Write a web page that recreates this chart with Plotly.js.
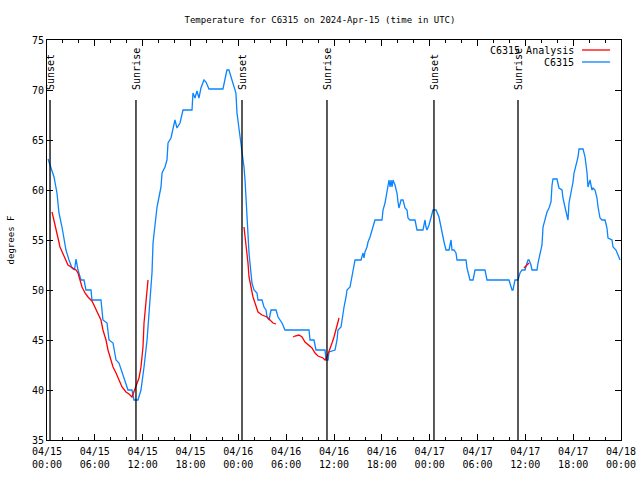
<!DOCTYPE html>
<html>
<head>
<meta charset="utf-8">
<script src="https://cdn.plot.ly/plotly-3.0.1.min.js"></script>
<style>html,body{margin:0;padding:0;background:#fff;}#chart{width:640px;height:480px;}</style>
</head>
<body>
<div id="chart"></div>
<script>
// Start of the period (UTC)
var startDate = '2024-04-15';

// Observed temperature C6315: hours after start, degrees F
var obsHours = [0.13,0.88,1.25,1.5,1.88,2.13,2.38,2.76,3.14,3.45,3.64,3.89,4.26,4.64,4.89,5.52,5.64,6.77,7.02,7.53,7.78,8.28,8.66,9.03,9.41,9.66,10.16,10.66,10.91,11.41,11.79,12.17,12.55,12.92,13.17,13.30,13.55,13.80,14.05,14.30,14.43,14.80,15.05,15.18,15.55,15.80,16.05,16.30,16.68,17.06,18.19,18.31,18.56,18.81,19.06,19.31,19.69,19.94,20.32,22.07,22.32,22.57,22.82,23.08,23.45,23.70,23.83,24.08,24.33,24.59,24.71,24.84,24.96,25.09,25.21,25.34,25.46,25.59,25.71,25.97,26.34,26.46,26.97,27.22,27.47,27.60,27.85,28.10,28.73,28.98,29.23,29.48,29.85,32.87,32.99,33.49,33.74,34.87,35.00,35.25,35.37,36.13,36.38,36.50,36.88,37.00,37.26,37.51,37.63,38.01,38.26,38.38,38.64,39.39,39.64,39.76,39.89,40.14,40.27,40.52,40.77,40.89,41.14,42.02,42.15,42.40,42.65,42.77,42.90,43.03,43.15,43.28,43.40,43.65,43.90,44.03,44.15,44.41,44.66,44.91,45.16,45.28,45.53,46.16,46.41,47.16,47.42,47.54,47.67,47.92,48.17,48.42,48.80,49.17,49.42,49.55,49.80,50.05,50.43,50.68,50.80,51.05,51.30,51.43,52.56,52.68,52.94,53.06,53.44,53.69,54.94,55.19,57.95,58.20,58.33,58.45,58.70,59.08,59.33,59.58,59.96,60.21,60.34,60.46,60.71,60.84,61.46,61.59,61.84,62.09,62.22,62.47,62.72,62.97,63.22,63.35,63.47,63.97,64.22,64.60,64.72,64.97,65.23,65.35,65.48,65.73,65.98,66.11,66.36,66.61,66.73,67.24,67.49,67.74,67.86,68.11,68.36,68.49,68.74,68.99,69.12,69.37,69.62,70.00,70.24,70.37,70.87,71.00,71.37,71.50,71.88];
var obsTemps = [63.1,61.3,59.7,57.7,56.3,55,54,53,52.2,52,53.1,52,51,51,50,50,49,49,47,46.7,45,44.7,43,42.7,41.8,41,40,40,39,39,40,42.3,45,49,51.7,54.7,56.7,58.3,59.3,60.3,61.7,62.3,63,64.7,65.2,66,67,66.2,66.7,68,68,69.7,69.2,69.9,69.2,70.2,71,70.8,70.1,70.1,71,72,72,71.3,70.5,69.7,67.7,66.3,64.7,63.5,62.3,61,59,57,55.3,53.7,52.7,51.7,50.7,50,49.7,49,49,48.3,48,47.3,47,48,48,47.3,47,46.7,46,46,45,45,44,44,43,43,43.8,44,45,46,46.3,47,48.3,49.3,50,50.3,51.3,52,53,53,53.7,53.2,53.8,54.3,54.8,55.3,56,56.5,57,57,58,58.7,59.7,60.3,61,60.3,61,60.3,61,60.5,59.7,58.8,58.2,59,59,58.2,58,57.2,57,57,56,56,57,56.3,56,56.5,57.3,58,58,57.3,56.3,55.7,54.8,54,54,55,54,54,53.7,53,53,52.2,51.3,51,51,52,52,51,51,50.3,50,50,51,51,51.7,52,52,52.7,53,53,52.5,52,52,52.7,53.7,54.5,56.3,57,57.8,58.2,58.8,60.5,61.1,61.1,60.2,60,59.2,58.3,57.3,57,58.7,59.7,60.8,61.7,62.5,63.3,64.1,64.1,63.3,61.7,60.3,61,60,60.2,60,59.2,58.3,57.2,57,57,56.2,55.2,55,54.3,54,53.7,53];

// Analysis C6315 (segments separated by null)
var anaHours = [0.63,0.88,1.13,1.38,1.63,1.88,2.26,2.63,3.01,3.26,3.64,3.89,4.14,4.39,4.77,5.14,5.64,6.02,6.40,6.77,7.02,7.40,7.65,8.03,8.28,8.66,9.03,9.41,9.91,10.29,10.66,10.91,11.29,11.54,11.79,12.04,12.17,12.42,12.67,
  12.8,
  24.71,24.84,25.09,25.21,25.34,25.59,25.84,26.09,26.47,26.97,27.60,27.97,28.35,28.73,
  29.5,
  30.86,31.11,31.61,31.99,32.36,32.74,33.24,33.62,33.99,34.62,34.87,35.12,35.37,35.75,36.00,36.25,36.50,36.63,
  37.0,
  59.83,60.08,60.33,60.46];
var anaTemps = [57.8,57,56,55.2,54.3,53.8,53.2,52.5,52.3,52.2,52,51.7,51,50.3,49.7,49.3,48.9,48.3,47.7,47,46,45,44,43,42.3,41.7,41,40.3,39.8,39.6,39.3,39.8,40.7,41.2,42.3,44.3,46.7,49,51,
  null,
  56.3,55.3,54,52.7,51.3,50.3,49.3,48.7,47.8,47.5,47.3,47,46.7,46.6,
  null,
  45.3,45.4,45.5,45.3,44.8,44.5,44.2,43.7,43.4,43.2,43,43.3,43.8,44.7,45.3,46,46.7,47.2,
  null,
  52.2,52.4,52.6,52.7];

// Sunset / sunrise events (hours after start)
var sunHours = [0.38, 11.16, 24.46, 35.12, 48.54, 59.08];
var sunLabels = ['Sunset','Sunrise','Sunset','Sunrise','Sunset','Sunrise'];

var seriesNames = ['C6315 Analysis', 'C6315'];
var seriesColors = ['#ff0000', '#0a84ff'];

function toDate(h) {
  var base = Date.UTC(2024, 3, 15);
  var d = new Date(base + Math.round(h * 3600000));
  return d.toISOString().slice(0, 19).replace('T', ' ');
}

var font = {family: 'DejaVu Sans Mono, monospace', size: 9, color: '#000'};
var tickFont = {family: 'DejaVu Sans Mono, monospace', size: 10, color: '#000'};

var traces = [
  {x: obsHours.map(toDate), y: obsTemps, mode: 'lines', name: seriesNames[1],
   line: {color: seriesColors[1], width: 1.3}, showlegend: false},
  {x: anaHours.map(toDate), y: anaTemps, mode: 'lines', name: seriesNames[0],
   line: {color: seriesColors[0], width: 1.3}, connectgaps: false, showlegend: false}
];

var shapes = sunHours.map(function (h) {
  return {type: 'line', xref: 'x', yref: 'y', x0: toDate(h), x1: toDate(h), y0: 35, y1: 69,
          line: {color: '#000', width: 1.3}};
});
var annotations = sunHours.map(function (h, i) {
  return {x: toDate(h), y: 69.8, xref: 'x', yref: 'y', text: sunLabels[i], textangle: -90,
          showarrow: false, xanchor: 'center', yanchor: 'bottom', font: {family: font.family, size: 10, color: '#000'}};
});

// Legend drawn gnuplot-style: text right-aligned, sample line to the right
seriesNames.forEach(function (n, i) {
  var yp = [0.975, 0.945][i];
  annotations.push({x: 0.922, y: yp, xref: 'paper', yref: 'paper', text: n, showarrow: false,
    xanchor: 'right', yanchor: 'middle', font: {family: font.family, size: 10, color: '#000'}});
  shapes.push({type: 'line', xref: 'paper', yref: 'paper', x0: 0.932, x1: 0.981, y0: yp, y1: yp,
    line: {color: seriesColors[i], width: 1.3}});
});

var layout = {
  width: 640, height: 480,
  margin: {l: 47, r: 19, t: 40, b: 40},
  paper_bgcolor: '#fff', plot_bgcolor: '#fff',
  font: font,
  title: {text: 'Temperature for C6315 on 2024-Apr-15 (time in UTC)', font: font,
          x: 0.5, xanchor: 'center', xref: 'container', y: 0.958, yanchor: 'middle'},
  xaxis: {
    type: 'date', range: [toDate(0), toDate(72)],
    tick0: toDate(0), dtick: 6 * 3600000, tickformat: '%m/%d<br>%H:%M',
    ticks: 'inside', ticklen: 6, tickcolor: '#000', tickwidth: 1,
    minor: {dtick: 2 * 3600000, ticks: 'inside', ticklen: 3, tickcolor: '#000', tickwidth: 1},
    showline: true, linecolor: '#000', linewidth: 1, mirror: 'ticks',
    showgrid: false, zeroline: false, tickfont: tickFont, ticklabelstandoff: 2
  },
  yaxis: {
    range: [35, 75], tick0: 35, dtick: 5,
    ticks: 'inside', ticklen: 6, tickcolor: '#000', tickwidth: 1,
    showline: true, linecolor: '#000', linewidth: 1, mirror: 'ticks',
    showgrid: false, zeroline: false, tickfont: tickFont,
    title: {text: 'degrees F', font: font, standoff: 15}
  },
  shapes: shapes,
  annotations: annotations,
  showlegend: false
};

Plotly.newPlot('chart', traces, layout, {displayModeBar: false, staticPlot: true});
</script>
</body>
</html>
